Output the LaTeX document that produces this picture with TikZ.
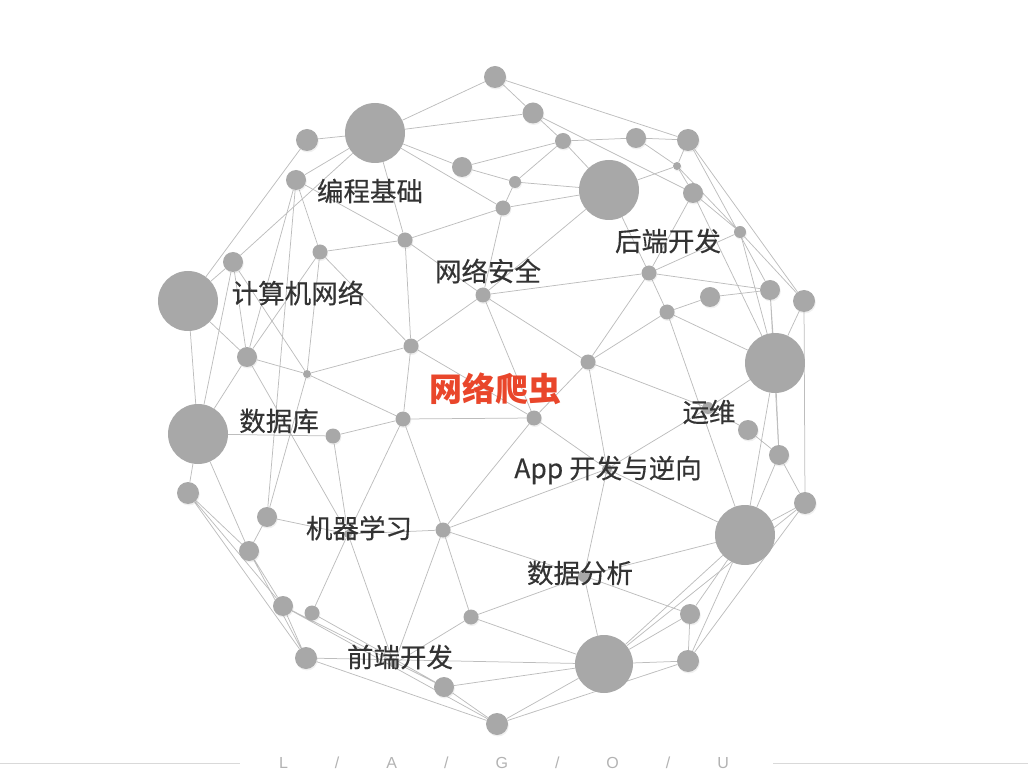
\documentclass[tikz,border=0pt]{standalone}
\usepackage{fontspec}
\newfontfamily\cjk[FakeBold=0.35]{Noto Sans CJK SC}
\newfontfamily\cjkfett{Noto Sans CJK SC}
\setsansfont{Liberation Sans}
\usetikzlibrary{backgrounds,shadows}

\definecolor{kugel}{HTML}{A8A8A8}
\definecolor{kante}{HTML}{BDBDBD}
\definecolor{schrift}{HTML}{333333}
\definecolor{rot}{HTML}{E9462B}

\tikzset{
  ball/.style={circle, fill=kugel, inner sep=0pt, minimum size=#1pt,
    drop shadow={opacity=0.12, shadow xshift=0.8pt, shadow yshift=-1.5pt}},
  bigball/.style={circle, fill=kugel, inner sep=0pt, minimum size=#1pt},
  link/.style={draw=kante, line width=0.75pt},
  lbl/.style={font=\cjk\fontsize{26.5}{30}\selectfont, text=schrift, inner sep=0pt},
}

\begin{document}
\begin{tikzpicture}[x=1pt, y=-1pt]
	\useasboundingbox (0,0) rectangle (1028,775); % Rand wie im Bild
	
	% grosse Kreise
	\node[bigball=60] (bc) at (375,133) {};
	\node[bigball=60] (hd) at (609,190) {};
	\node[bigball=60] (jw) at (188,301) {};
	\node[bigball=60] (sk) at (198,434) {};
	\node[bigball=60] (yw) at (775,363) {};
	\node[bigball=60] (ap) at (745,535) {};
	\node[bigball=58] (qd) at (604,664) {};
	
	% kleine Kreise
	\node[ball=22] (p1) at (495,77) {};
	\node[ball=21] (p2) at (533,113) {};
	\node[ball=16] (p3) at (563,141) {};
	\node[ball=22] (p4) at (307,140) {};
	\node[ball=20] (p5) at (462,167) {};
	\node[ball=12] (p6) at (515,182) {};
	\node[ball=20] (p7) at (636,138) {};
	\node[ball=22] (p8) at (688,140) {};
	\node[ball=8] (p9) at (677,166) {};
	\node[ball=20] (p10) at (693,193) {};
	\node[ball=20] (p11) at (296,180) {};
	\node[ball=15] (p12) at (503,208) {};
	\node[ball=15] (p13) at (405,240) {};
	\node[ball=12] (p14) at (740,232) {};
	\node[ball=15] (p15) at (320,252) {};
	\node[ball=20] (p16) at (233,262) {};
	\node[ball=15] (p17) at (649,273) {};
	\node[ball=15] (p18) at (483,295) {};
	\node[ball=20] (p19) at (710,297) {};
	\node[ball=20] (p20) at (770,290) {};
	\node[ball=22] (p21) at (804,301) {};
	\node[ball=15] (p22) at (667,312) {};
	\node[ball=15] (p23) at (411,346) {};
	\node[ball=20] (p24) at (247,357) {};
	\node[ball=8] (p25) at (307,374) {};
	\node[ball=15] (p26) at (588,362) {};
	\node[ball=15] (p27) at (403,419) {};
	\node[ball=15] (p28) at (534,418) {};
	\node[ball=15] (p29) at (333,436) {};
	\node[ball=20] (p30) at (748,430) {};
	\node[ball=20] (p31) at (779,455) {};
	\node[ball=22] (p32) at (188,493) {};
	\node[ball=20] (p33) at (267,517) {};
	\node[ball=22] (p34) at (805,503) {};
	\node[ball=15] (p35) at (443,530) {};
	\node[ball=20] (p36) at (249,551) {};
	\node[ball=12] (p37) at (584,576) {};
	\node[ball=20] (p38) at (283,606) {};
	\node[ball=15] (p39) at (312,613) {};
	\node[ball=15] (p40) at (471,617) {};
	\node[ball=20] (p41) at (690,614) {};
	\node[ball=22] (p42) at (306,658) {};
	\node[ball=22] (p43) at (688,661) {};
	\node[ball=20] (p44) at (444,687) {};
	\node[ball=22] (p45) at (497,724) {};
	\node[ball=12] (h1) at (708,408) {}; % hinter Text
	\node[ball=10] (h2) at (607,469) {};
	\node[ball=8] (h3) at (394,664) {};
	\node[ball=8] (h4) at (348,534) {};
	
	% Kanten
	\begin{scope}[on background layer]
	\draw[link] (bc) -- (p1) (bc) -- (p2) (bc) -- (p4) (bc) -- (p5) (bc) -- (p11) (bc) -- (p12) (bc) -- (p13) (bc) -- (p16);
	\draw[link] (p1) -- (p2) (p1) -- (p8) (p2) -- (p3) (p2) -- (p10);
	\draw[link] (p3) -- (p5) (p3) -- (p6) (p3) -- (p7) (p3) -- (hd) (p5) -- (p6) (p6) -- (hd) (p6) -- (p12);
	\draw[link] (p7) -- (p8) (p7) -- (p9) (p8) -- (p9) (p8) -- (p20) (p8) -- (p21);
	\draw[link] (p9) -- (p10) (p9) -- (hd) (p9) -- (p14) (p10) -- (p14) (p10) -- (p17) (p10) -- (yw);
	\draw[link] (p12) -- (hd) (p12) -- (p13) (p12) -- (p18) (hd) -- (p17) (hd) -- (p18);
	\draw[link] (p11) -- (p13) (p11) -- (p15) (p11) -- (p24) (p11) -- (p33);
	\draw[link] (p13) -- (p15) (p13) -- (p18) (p13) -- (p23) (p4) -- (jw);
	\draw[link] (p15) -- (p23) (p15) -- (p24) (p15) -- (p25);
	\draw[link] (p16) -- (jw) (p16) -- (p24) (p16) -- (p25) (p16) -- (sk) (jw) -- (sk) (jw) -- (p24);
	\draw[link] (p24) -- (p25) (p24) -- (sk) (p24) -- (h4) (p25) -- (p23) (p25) -- (p27) (p25) -- (p33);
	\draw[link] (p23) -- (p18) (p23) -- (p27) (p23) -- (p28) (p18) -- (p17) (p18) -- (p26) (p18) -- (p28);
	\draw[link] (p17) -- (p14) (p17) -- (p20) (p17) -- (p22) (p17) -- (p26) (p14) -- (p21) (p14) -- (yw);
	\draw[link] (p22) -- (p19) (p22) -- (p26) (p22) -- (yw) (p22) -- (ap) (p19) -- (p20);
	\draw[link] (p20) -- (yw) (p20) -- (p31) (p21) -- (yw) (p21) -- (p34);
	\draw[link] (p26) -- (p28) (p26) -- (h1) (p26) -- (h2);
	\draw[link] (p27) -- (p28) (p27) -- (p29) (p27) -- (p35) (p27) -- (h4) (p29) -- (sk) (p29) -- (h4);
	\draw[link] (sk) -- (p32) (sk) -- (p36) (p32) -- (p36) (p32) -- (p38) (p32) -- (p42);
	\draw[link] (p33) -- (p36) (p33) -- (h4) (h4) -- (p35) (h4) -- (p39) (h4) -- (h3);
	\draw[link] (p28) -- (p35) (p28) -- (h2) (h1) -- (yw) (h1) -- (p30) (h1) -- (h2);
	\draw[link] (h2) -- (p35) (h2) -- (p37) (h2) -- (ap);
	\draw[link] (p30) -- (p31) (p31) -- (yw) (p31) -- (p34) (p31) -- (ap) (yw) -- (ap);
	\draw[link] (p34) -- (ap) (p34) -- (qd) (p34) -- (p43);
	\draw[link] (p35) -- (p37) (p35) -- (p40) (p35) -- (h3);
	\draw[link] (p36) -- (p38) (p36) -- (p42) (p38) -- (p42) (p38) -- (p44) (p38) -- (p45) (p39) -- (p44);
	\draw[link] (p40) -- (h3) (p40) -- (p37) (p40) -- (qd) (p37) -- (ap) (p37) -- (p41) (p37) -- (qd);
	\draw[link] (p42) -- (qd) (p42) -- (p45) (p44) -- (p45) (p44) -- (qd) (p45) -- (qd) (p45) -- (p43);
	\draw[link] (qd) -- (p43) (qd) -- (p41) (qd) -- (ap) (p41) -- (p43) (p41) -- (ap) (p43) -- (ap);
	\end{scope}
	
	% Beschriftung
	\node[lbl] (tbc) at (370,191) {编程基础};
	\node[lbl] (thd) at (668,241) {后端开发};
	\node[lbl] (tws) at (488,271) {网络安全};
	\node[lbl] (tjw) at (298,293) {计算机网络};
	\node[lbl, text=rot, font=\cjkfett\bfseries\fontsize{33}{38}\selectfont] (tpc) at (495,389) {网络爬虫};
	\node[lbl] (tsk) at (279,421) {数据库};
	\node[lbl] (tyw) at (709,412) {运维};
	\node[lbl] (tap) at (608,470) {App 开发与逆向};
	\node[lbl] (tjq) at (359,528) {机器学习};
	\node[lbl] (tsf) at (580,573) {数据分析};
	\node[lbl] (tqd) at (400,657) {前端开发};
	
	% Fusszeile
	\draw[black!15, line width=0.8pt] (0,763) -- (240,763);
	\draw[black!15, line width=0.8pt] (773,763) -- (1028,763);
	\node[black!30, font=\sffamily\fontsize{16}{18}\selectfont] (lag) at (504,763)
		{L\hspace{47pt}/\hspace{47pt}A\hspace{47pt}/\hspace{47pt}G\hspace{47pt}/\hspace{47pt}O\hspace{47pt}/\hspace{47pt}U};
\end{tikzpicture}
\end{document}
